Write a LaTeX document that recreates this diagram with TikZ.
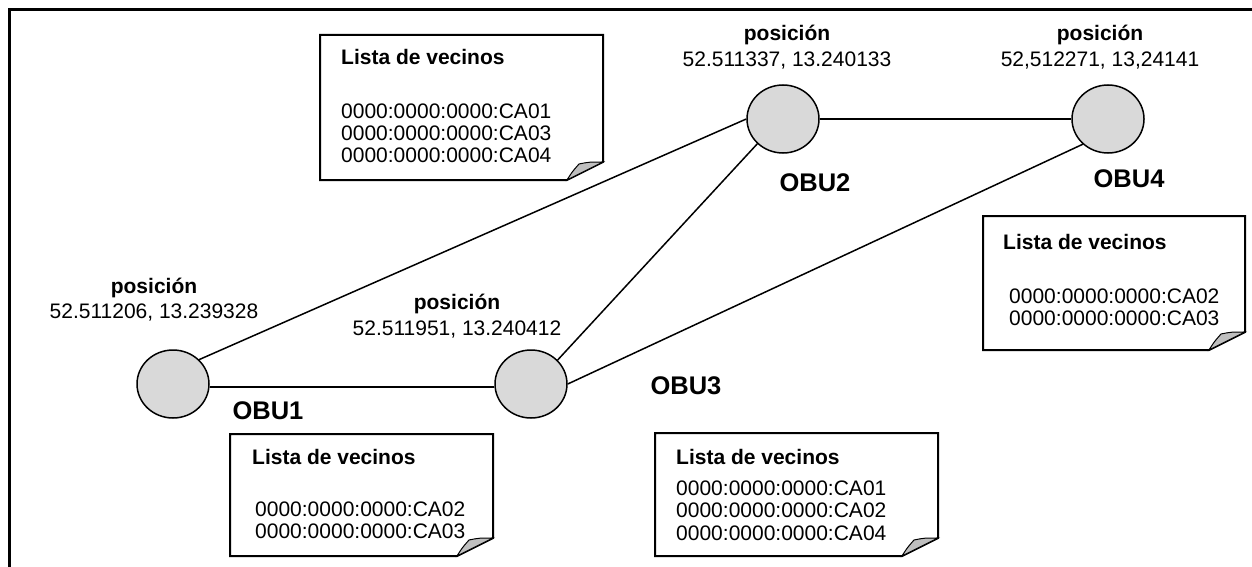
\documentclass[tikz,border=0pt]{standalone}
\usepackage{fontspec}
\setmainfont{Liberation Sans}
\newfontfamily\obufont{Liberation Sans}
\usetikzlibrary{shapes.geometric}

% folded-corner paper sheet: left, top, right, bottom
\newcommand\notepaper[4]{%
  \draw[noteline] (#1,#2) -- (#3,#2) -- (#3,#4-18) -- (#3-36,#4) -- (#1,#4) -- cycle;
  \draw[flap] (#3-36,#4) .. controls (#3-31,#4-8) .. (#3-24,#4-16)
              .. controls (#3-14,#4-18) .. (#3,#4-18) -- cycle;
}

\tikzset{
  obu/.style={ellipse, draw=black, line width=1.5pt, fill=black!15,
              minimum width=72pt, minimum height=68pt, inner sep=0pt},
  link/.style={draw=black, line width=1.5pt},
  noteline/.style={draw=black, line width=2pt, fill=white, line join=miter},
  flap/.style={draw=black, line width=1pt, fill=black!25},
  poslbl/.style={font=\fontsize{21}{24}\selectfont\bfseries, inner sep=0pt},
  coordlbl/.style={font=\fontsize{21}{24}\selectfont, inner sep=0pt},
  obulbl/.style={font=\obufont\fontsize{25.5}{28}\selectfont\bfseries, inner sep=0pt},
  notetitle/.style={font=\fontsize{21}{24}\selectfont\bfseries, anchor=west, inner sep=0pt},
  addr/.style={font=\fontsize{21}{24}\selectfont, anchor=west, inner sep=0pt},
}

\begin{document}
\begin{tikzpicture}[x=1pt, y=-1pt]
  \useasboundingbox (0,0) rectangle (1252,567);
  \clip (0,0) rectangle (1252,567);
  \fill[white] (0,0) rectangle (1252,567);

  % outer frame (runs off the right and bottom edges)
  \draw[line width=3pt] (9,600) -- (9,10) -- (1290,10);

  % vehicles
  \node[obu] (obu1) at (173,384) {};
  \node[obu] (obu3) at (531,384) {};
  \node[obu] (obu2) at (783,119) {};
  \node[obu] (obu4) at (1108,119) {};

  % radio links
  \draw[link] (obu1.43) -- (obu2.180);
  \draw[link] (obu1.-5) -- (obu3.185);
  \draw[link] (obu3.42) -- (obu2.224);
  \draw[link] (obu3.0) -- (obu4.225);
  \draw[link] (obu2.0) -- (obu4.180);

  % positions
  \node[poslbl]   (p1) at (154,288) {posición};
  \node[coordlbl] (c1) at (154,313) {52.511206, 13.239328};
  \node[poslbl]   (p3) at (457,304) {posición};
  \node[coordlbl] (c3) at (457,330) {52.511951, 13.240412};
  \node[poslbl]   (p2) at (787,35) {posición};
  \node[coordlbl] (c2) at (787,61) {52.511337, 13.240133};
  \node[poslbl]   (p4) at (1100,35) {posición};
  \node[coordlbl] (c4) at (1100,61) {52,512271, 13,24141};

  % vehicle names
  \node[obulbl] (n1) at (268,411) {OBU1};
  \node[obulbl] (n3) at (686,386) {OBU3};
  \node[obulbl] (n2) at (815,183) {OBU2};
  \node[obulbl] (n4) at (1129,179) {OBU4};

  % neighbour list of OBU2
  \notepaper{320}{35}{603}{180}
  \node[notetitle] (t2) at (341,57) {Lista de vecinos};
  \node[addr] (a2a) at (341,111) {0000:0000:0000:CA01};
  \node[addr] (a2b) at (341,133) {0000:0000:0000:CA03};
  \node[addr] (a2c) at (341,155) {0000:0000:0000:CA04};

  % neighbour list of OBU4
  \notepaper{983}{216}{1245}{350}
  \node[notetitle] (t4) at (1003,242) {Lista de vecinos};
  \node[addr] (a4a) at (1009,296) {0000:0000:0000:CA02};
  \node[addr] (a4b) at (1009,318) {0000:0000:0000:CA03};

  % neighbour list of OBU1
  \notepaper{230}{434}{493}{556}
  \node[notetitle] (t1) at (252,457) {Lista de vecinos};
  \node[addr] (a1a) at (255,509) {0000:0000:0000:CA02};
  \node[addr] (a1b) at (255,531) {0000:0000:0000:CA03};

  % neighbour list of OBU3
  \notepaper{655}{433}{938}{556}
  \node[notetitle] (t3) at (676,457) {Lista de vecinos};
  \node[addr] (a3a) at (676,488) {0000:0000:0000:CA01};
  \node[addr] (a3b) at (676,510) {0000:0000:0000:CA02};
  \node[addr] (a3c) at (676,533) {0000:0000:0000:CA04};
\end{tikzpicture}
\end{document}
